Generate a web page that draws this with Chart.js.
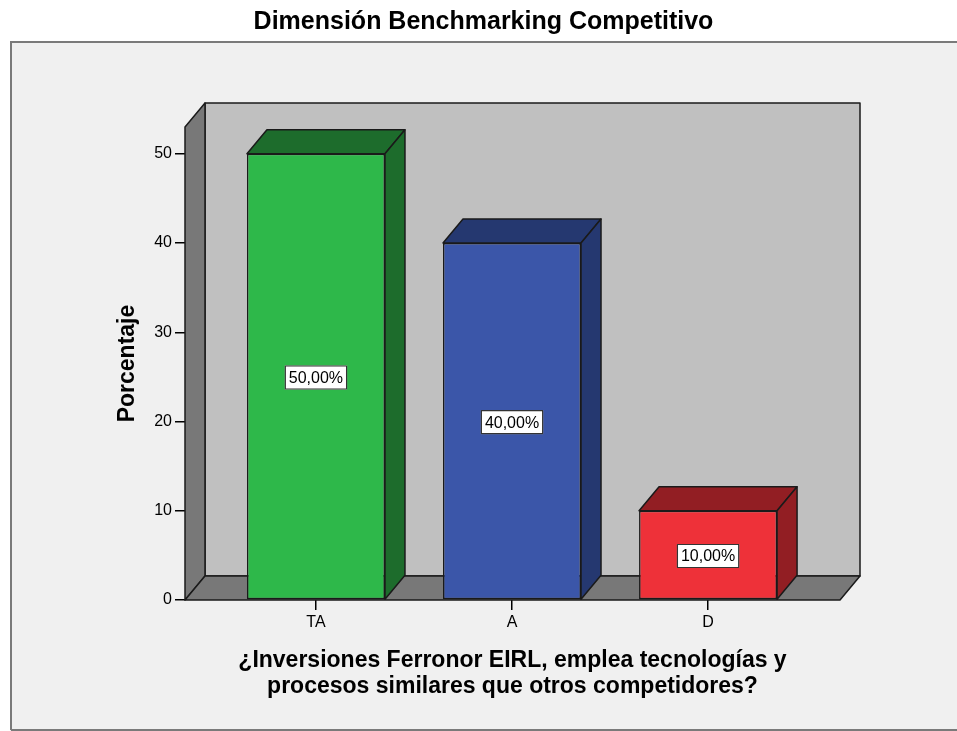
<!DOCTYPE html>
<html>
<head>
<meta charset="utf-8">
<script src="https://cdn.jsdelivr.net/npm/chart.js@4"></script>
<style>
html, body { margin: 0; padding: 0; background: #fff; }
</style>
</head>
<body>
<canvas id="benchChart" width="957" height="731"></canvas>
<script>
var categorias = ['TA', 'A', 'D'];
var porcentajes = [50, 40, 10];
var etiquetas = ['50,00%', '40,00%', '10,00%'];
var ticksY = [0, 10, 20, 30, 40, 50];

var coloresFrente = ['#2eb84a', '#3b56a9', '#ee3139'];
var coloresLado = ['#1d6c2c', '#253870', '#921e23'];

// profundidad del efecto 3D
var profX = 20, profY = -24;

function poligono(ctx, pts, relleno) {
    ctx.beginPath();
    ctx.moveTo(pts[0][0], pts[0][1]);
    for (var i = 1; i < pts.length; i++) ctx.lineTo(pts[i][0], pts[i][1]);
    ctx.closePath();
    ctx.fillStyle = relleno;
    ctx.fill();
    ctx.stroke();
}

var fondo = {
    id: 'fondo',
    beforeDraw: function(chart) {
        var ctx = chart.ctx;
        ctx.save();
        ctx.fillStyle = '#ffffff';
        ctx.fillRect(0, 0, chart.width, chart.height);
        ctx.fillStyle = '#f0f0f0';
        ctx.fillRect(10, 41, chart.width - 10, chart.height - 41);
        ctx.strokeStyle = '#7a7a7a';
        ctx.lineWidth = 2;
        ctx.beginPath();
        ctx.moveTo(11, chart.height - 1);
        ctx.lineTo(11, 42);
        ctx.lineTo(chart.width, 42);
        ctx.moveTo(11, chart.height - 1);
        ctx.lineTo(chart.width, chart.height - 1);
        ctx.stroke();
        ctx.restore();
    }
};

var paredes = {
    id: 'paredes',
    beforeDatasetsDraw: function(chart) {
        var a = chart.chartArea, ctx = chart.ctx;
        ctx.save();
        ctx.strokeStyle = '#1a1a1a';
        ctx.lineWidth = 1.5;
        ctx.lineJoin = 'round';
        poligono(ctx, [[a.left + profX, a.top + profY], [a.right + profX, a.top + profY],
            [a.right + profX, a.bottom + profY], [a.left + profX, a.bottom + profY]], '#c0c0c0');
        poligono(ctx, [[a.left, a.top], [a.left + profX, a.top + profY],
            [a.left + profX, a.bottom + profY], [a.left, a.bottom]], '#787878');
        poligono(ctx, [[a.left, a.bottom], [a.left + profX, a.bottom + profY],
            [a.right + profX, a.bottom + profY], [a.right, a.bottom]], '#787878');
        ctx.restore();
    },
    afterDatasetsDraw: function(chart) {
        var ctx = chart.ctx;
        var meta = chart.getDatasetMeta(0);
        ctx.save();
        ctx.strokeStyle = '#1a1a1a';
        ctx.lineWidth = 1.5;
        ctx.lineJoin = 'round';
        meta.data.forEach(function(bar, i) {
            var l = bar.x - bar.width / 2, r = bar.x + bar.width / 2;
            var t = bar.y, b = bar.base;
            poligono(ctx, [[l, t], [l + profX, t + profY], [r + profX, t + profY], [r, t]], coloresLado[i]);
            poligono(ctx, [[r, t], [r + profX, t + profY], [r + profX, b + profY], [r, b]], coloresLado[i]);
            // recuadro con el porcentaje
            var cy = (t + b) / 2 + 1;
            ctx.font = '16px "Liberation Sans", Arial, sans-serif';
            var w = ctx.measureText(etiquetas[i]).width + 8;
            ctx.fillStyle = '#ffffff';
            ctx.fillRect(bar.x - w / 2, cy - 12, w, 24);
            ctx.lineWidth = 1.2;
            ctx.strokeStyle = '#333';
            ctx.strokeRect(bar.x - w / 2 + 0.5, cy - 11.5, w - 1, 23);
            ctx.fillStyle = '#000';
            ctx.textAlign = 'center';
            ctx.textBaseline = 'middle';
            ctx.fillText(etiquetas[i], bar.x, cy + 1);
            ctx.lineWidth = 1.5;
            ctx.strokeStyle = '#1a1a1a';
        });
        ctx.restore();
    }
};

var ctx1 = document.getElementById('benchChart').getContext('2d');

var chart = new Chart(ctx1, {
    type: 'bar',
    plugins: [fondo, paredes],
    data: {
        datasets: [{
            data: porcentajes.map(function(v, i) { return { x: i, y: v }; }),
            backgroundColor: coloresFrente,
            borderColor: '#1a1a1a',
            borderWidth: 1.5,
            borderSkipped: false,
            barPercentage: 0.704,
            categoryPercentage: 1,
            clip: false
        }]
    },
    options: {
        responsive: false,
        animation: false,
        layout: { padding: { left: 10, right: 0, top: 0, bottom: 0 } },
        plugins: {
            legend: { display: false },
            tooltip: { enabled: false },
            title: {
                display: true,
                text: 'Dimensión Benchmarking Competitivo',
                color: '#000',
                font: { family: '"Liberation Sans", Arial, sans-serif', size: 25, weight: 'bold', lineHeight: 1.2 },
                padding: { top: 7, bottom: 90 }
            }
        },
        scales: {
            x: {
                type: 'linear',
                min: -0.668,
                max: 2.673,
                offset: false,
                afterBuildTicks: function(s) {
                    s.ticks = categorias.map(function(c, i) { return { value: i }; });
                },
                afterFit: function(s) { s.height = 131; },
                ticks: {
                    callback: function(v) { return categorias[v]; },
                    color: '#000',
                    font: { family: '"Liberation Sans", Arial, sans-serif', size: 16 },
                    padding: 3,
                    autoSkip: false,
                    maxRotation: 0
                },
                grid: { offset: false, drawOnChartArea: false, tickLength: 10, color: '#000', lineWidth: 1.5 },
                border: { display: false },
                title: {
                    display: true,
                    text: ['¿Inversiones Ferronor EIRL, emplea tecnologías y', 'procesos similares que otros competidores?'],
                    color: '#000',
                    font: { family: '"Liberation Sans", Arial, sans-serif', size: 23, weight: 'bold', lineHeight: 1.13 },
                    padding: { top: 0, bottom: 31 }
                }
            },
            y: {
                min: 0,
                max: 53,
                afterBuildTicks: function(s) {
                    s.ticks = ticksY.map(function(v) { return { value: v }; });
                },
                afterFit: function(s) { s.width = 175; },
                ticks: {
                    color: '#000',
                    font: { family: '"Liberation Sans", Arial, sans-serif', size: 16 },
                    padding: 3
                },
                grid: { drawOnChartArea: false, tickLength: 10, color: '#000', lineWidth: 1.5 },
                border: { display: false },
                title: {
                    display: true,
                    text: 'Porcentaje',
                    color: '#000',
                    font: { family: '"Liberation Sans", Arial, sans-serif', size: 23, weight: 'bold', lineHeight: 1.2 },
                    padding: { top: 104, bottom: 0 }
                }
            },
            y2: {
                type: 'linear',
                position: 'right',
                display: true,
                afterFit: function(s) { s.width = 117; },
                ticks: { display: false },
                grid: { display: false },
                border: { display: false }
            }
        }
    }
});
</script>
</body>
</html>
